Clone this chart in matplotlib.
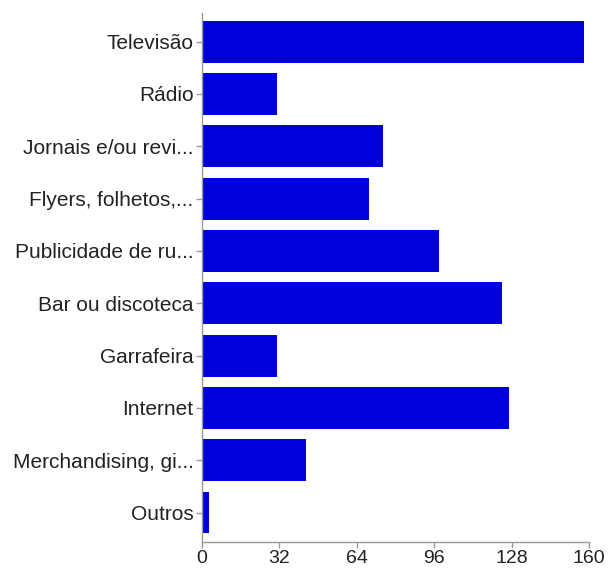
import matplotlib.pyplot as plt

# Categories and counts
categories = ["Televisão", "Rádio", "Jornais e/ou revi...", "Flyers, folhetos,...",
              "Publicidade de ru...", "Bar ou discoteca", "Garrafeira", "Internet",
              "Merchandising, gi...", "Outros"]
counts = [158, 31, 75, 69, 98, 124, 31, 127, 43, 3]
xticks = [0, 32, 64, 96, 128, 160]

plt.rcParams['font.family'] = ['Liberation Sans', 'DejaVu Sans']

fig = plt.figure(figsize=(6.08, 5.68), dpi=100)
ax = fig.add_axes([0.332, 0.046, 0.637, 0.931])

ypos = list(range(len(categories)))
ax.barh(ypos, counts, height=0.8, color='#0000dd', edgecolor='none')

ax.set_xlim(0, 160)
ax.set_ylim(len(categories) - 0.44, -0.545)
ax.set_xticks(xticks)
ax.set_yticks(ypos)
ax.set_yticklabels(categories)

for side in ['top', 'right']:
    ax.spines[side].set_visible(False)
for side in ['left', 'bottom']:
    ax.spines[side].set_color('#999999')
    ax.spines[side].set_linewidth(1)

ax.tick_params(axis='both', colors='#999999', length=4, width=1,
               labelcolor='#222222')
ax.tick_params(axis='y', pad=2, labelsize=15)
ax.tick_params(axis='x', pad=1.5, labelsize=14)

plt.savefig('out.png', dpi=100)
